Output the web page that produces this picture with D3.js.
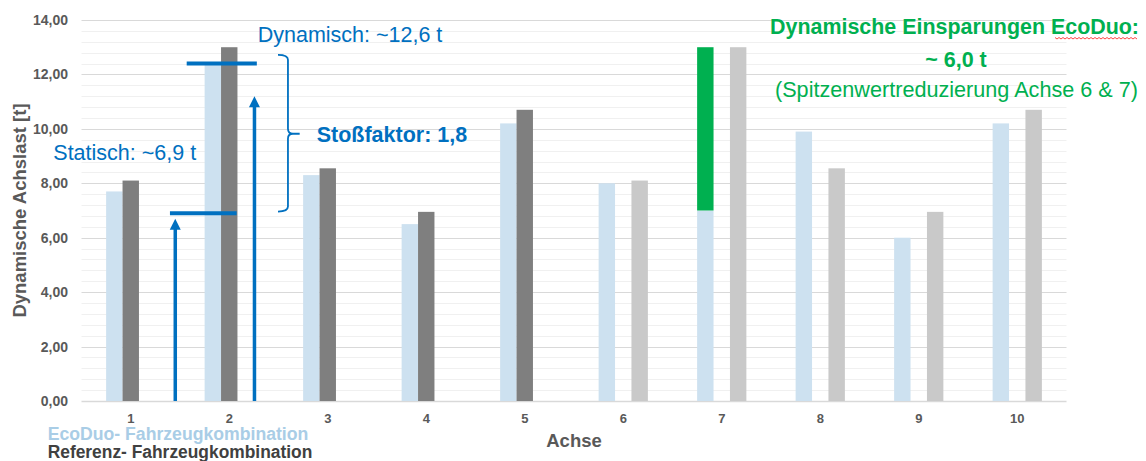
<!DOCTYPE html>
<html lang="de">
<head>
<meta charset="utf-8">
<title>Dynamische Achslast</title>
<script src="https://cdn.jsdelivr.net/npm/d3@7"></script>
<style>
  html, body { margin: 0; padding: 0; background: #ffffff; }
  svg { display: block; font-family: "Liberation Sans", Arial, sans-serif; }
</style>
</head>
<body>
<svg id="chart" width="1146" height="461"></svg>
<script>
// Axles on the x axis
const axles = ["1", "2", "3", "4", "5", "6", "7", "8", "9", "10"];

// Dynamic axle load [t] per axle
const ecoDuo    = [7.7, 12.4, 8.3, 6.5, 10.2, 8.0, 7.0, 9.9, 6.0, 10.2];
const referenz  = [8.1, 13.0, 8.55, 6.95, 10.7, null, null, null, null, null];
const referenzB = [null, null, null, null, null, 8.1, 13.0, 8.55, 6.95, 10.7];
// Peak reduction stacked on top of the EcoDuo bar
const einsparung = [0, 0, 0, 0, 0, 0, 6.0, 0, 0, 0];

const yTicks = [0, 2, 4, 6, 8, 10, 12, 14];

// Annotation values (axle load in t, position in axle units)
const statischWert = 6.9;
const dynamischWert = 12.4;

const svg = d3.select("#chart");
const fmt = d => d3.format(".2f")(d).replace(".", ",");

const left = 81.5, right = 1066.5;
const x0 = d3.scaleBand().domain(axles).range([left, right])
  .paddingInner(0.5).paddingOuter(0.25);
const slots = ["ecoDuo", "referenz", "referenzB"];
const x1 = d3.scaleBand().domain(slots).range([0, x0.bandwidth()]);
const y = d3.scaleLinear().domain([0, 14]).range([401, 20]);
// continuous axle position, for annotations between categories
const xa = d3.scaleLinear().domain([0.5, 10.5]).range([left, right]);

// gridlines: minor every 0.4 t, major every 2 t
const minor = d3.range(0, 14.001, 0.4).filter(v => Math.abs(v / 2 - Math.round(v / 2)) > 1e-6);
svg.append("g").selectAll("line").data(minor).join("line")
  .attr("x1", left).attr("x2", right)
  .attr("y1", d => Math.round(y(d)) + 0.5).attr("y2", d => Math.round(y(d)) + 0.5)
  .attr("stroke", "#f0f0f0").attr("stroke-width", 1);
svg.append("g").selectAll("line").data(yTicks).join("line")
  .attr("x1", left).attr("x2", right)
  .attr("y1", d => Math.round(y(d)) + 0.5).attr("y2", d => Math.round(y(d)) + 0.5)
  .attr("stroke", "#d9d9d9").attr("stroke-width", d => d === 0 ? 1.5 : 1);

// y axis labels
const yAxis = svg.append("g").attr("transform", `translate(${left},0)`)
  .call(d3.axisLeft(y).tickValues(yTicks).tickFormat(fmt).tickSize(0).tickPadding(13.5));
yAxis.select(".domain").remove();
yAxis.selectAll("text")
  .attr("fill", "#595959").attr("font-size", 14).attr("font-weight", "bold")
  .attr("font-family", "Liberation Sans, Arial, sans-serif");

// x axis labels
const xAxis = svg.append("g").attr("transform", `translate(0,${y(0)})`)
  .call(d3.axisBottom(x0).tickSize(0).tickPadding(12.8));
xAxis.select(".domain").remove();
xAxis.selectAll("text")
  .attr("fill", "#595959").attr("font-size", 13).attr("font-weight", "bold")
  .attr("font-family", "Liberation Sans, Arial, sans-serif");

// bars
const series = [
  { key: "ecoDuo", values: ecoDuo, color: "#cde1f0" },
  { key: "referenz", values: referenz, color: "#7f7f7f" },
  { key: "referenzB", values: referenzB, color: "#c9c9c9" }
];
series.forEach(s => {
  const rows = axles.map((a, i) => ({ a, v: s.values[i] })).filter(r => r.v != null);
  svg.append("g").selectAll("rect").data(rows).join("rect")
    .attr("x", r => x0(r.a) + x1(s.key))
    .attr("width", x1.bandwidth())
    .attr("y", r => y(r.v))
    .attr("height", r => y(0) - y(r.v))
    .attr("fill", s.color);
});
// savings segment
const savRows = axles.map((a, i) => ({ a, base: ecoDuo[i], v: einsparung[i] })).filter(r => r.v > 0);
svg.append("g").selectAll("rect").data(savRows).join("rect")
  .attr("x", r => x0(r.a) + x1("ecoDuo"))
  .attr("width", x1.bandwidth())
  .attr("y", r => y(r.base + r.v))
  .attr("height", r => y(r.base) - y(r.base + r.v))
  .attr("fill", "#00b050");

// annotations
const blue = "#0070c0";
const ann = svg.append("g");

function arrow(pos, top) {
  const x = xa(pos), yt = y(top);
  ann.append("line").attr("x1", x).attr("x2", x).attr("y1", y(0)).attr("y2", yt + 8)
    .attr("stroke", blue).attr("stroke-width", 3.5);
  ann.append("path")
    .attr("d", `M${x},${yt} L${x - 5.5},${yt + 11} L${x + 5.5},${yt + 11} Z`)
    .attr("fill", blue);
}
arrow(1.452, 6.7);
arrow(2.256, 11.2);

ann.append("line").attr("x1", xa(1.398)).attr("x2", xa(2.075))
  .attr("y1", y(statischWert)).attr("y2", y(statischWert))
  .attr("stroke", blue).attr("stroke-width", 4);
ann.append("line").attr("x1", xa(1.568)).attr("x2", xa(2.28))
  .attr("y1", y(dynamischWert)).attr("y2", y(dynamischWert))
  .attr("stroke", blue).attr("stroke-width", 4);

// curly brace between static and dynamic level
{
  const bx0 = xa(2.495), bx1 = xa(2.596), bx2 = xa(2.715);
  const yt = y(12.72), yb = y(6.96), ym = y(9.82), r = 5;
  ann.append("path")
    .attr("d", `M${bx0},${yt} Q${bx1},${yt} ${bx1},${yt + r} L${bx1},${ym - r} Q${bx1},${ym} ${bx1 + r},${ym} L${bx2},${ym} M${bx1 + r},${ym} Q${bx1},${ym} ${bx1},${ym + r} L${bx1},${yb - r} Q${bx1},${yb} ${bx0},${yb}`)
    .attr("fill", "none").attr("stroke", blue).attr("stroke-width", 1.8);
}

ann.append("text").attr("x", 257.7).attr("y", 42)
  .attr("fill", blue).attr("font-size", 21.5).text("Dynamisch: ~12,6 t");
ann.append("text").attr("x", 53.3).attr("y", 159.5)
  .attr("fill", blue).attr("font-size", 21.5).text("Statisch: ~6,9 t");
ann.append("text").attr("x", 316.7).attr("y", 141.7)
  .attr("fill", blue).attr("font-size", 21.5).attr("font-weight", "bold").text("Stoßfaktor: 1,8");

// savings note
const green = "#00b050";
const gsum = d3.sum(einsparung);
svg.append("text").attr("x", 770).attr("y", 33.5)
  .attr("fill", green).attr("font-size", 21.5).attr("font-weight", "bold")
  .attr("textLength", 369).attr("lengthAdjust", "spacingAndGlyphs")
  .text("Dynamische Einsparungen EcoDuo:");
svg.append("path")
  .attr("d", d3.range(1055, 1138, 2).map((x, i) => `${i ? "L" : "M"}${x},${38 + (i % 2 ? 1 : -0.5)}`).join(""))
  .attr("fill", "none").attr("stroke", "#ff3030").attr("stroke-width", 0.9);
svg.append("text").attr("x", 956).attr("y", 66.7).attr("text-anchor", "middle")
  .attr("fill", green).attr("font-size", 21.5).attr("font-weight", "bold")
  .text(`~ ${d3.format(".1f")(gsum).replace(".", ",")} t`);
svg.append("text").attr("x", 775).attr("y", 97)
  .attr("fill", green).attr("font-size", 21.5)
  .attr("textLength", 363).attr("lengthAdjust", "spacingAndGlyphs")
  .text("(Spitzenwertreduzierung Achse 6 & 7)");

// axis titles
svg.append("text")
  .attr("transform", `translate(26,${(y(0) + y(14)) / 2}) rotate(-90)`)
  .attr("text-anchor", "middle").attr("fill", "#595959")
  .attr("font-size", 18.5).attr("font-weight", "bold")
  .text("Dynamische Achslast [t]");
svg.append("text").attr("x", (left + right) / 2).attr("y", 446.5)
  .attr("text-anchor", "middle").attr("fill", "#595959")
  .attr("font-size", 18.5).attr("font-weight", "bold").text("Achse");

// series labels
svg.append("text").attr("x", 47.7).attr("y", 440)
  .attr("fill", "#a9cde6").attr("font-size", 17.5).attr("font-weight", "bold")
  .attr("textLength", 260.6).attr("lengthAdjust", "spacingAndGlyphs")
  .text("EcoDuo- Fahrzeugkombination");
svg.append("text").attr("x", 47.7).attr("y", 458.3)
  .attr("fill", "#404040").attr("font-size", 17.5).attr("font-weight", "bold")
  .attr("textLength", 264.6).attr("lengthAdjust", "spacingAndGlyphs")
  .text("Referenz- Fahrzeugkombination");
</script>
</body>
</html>
